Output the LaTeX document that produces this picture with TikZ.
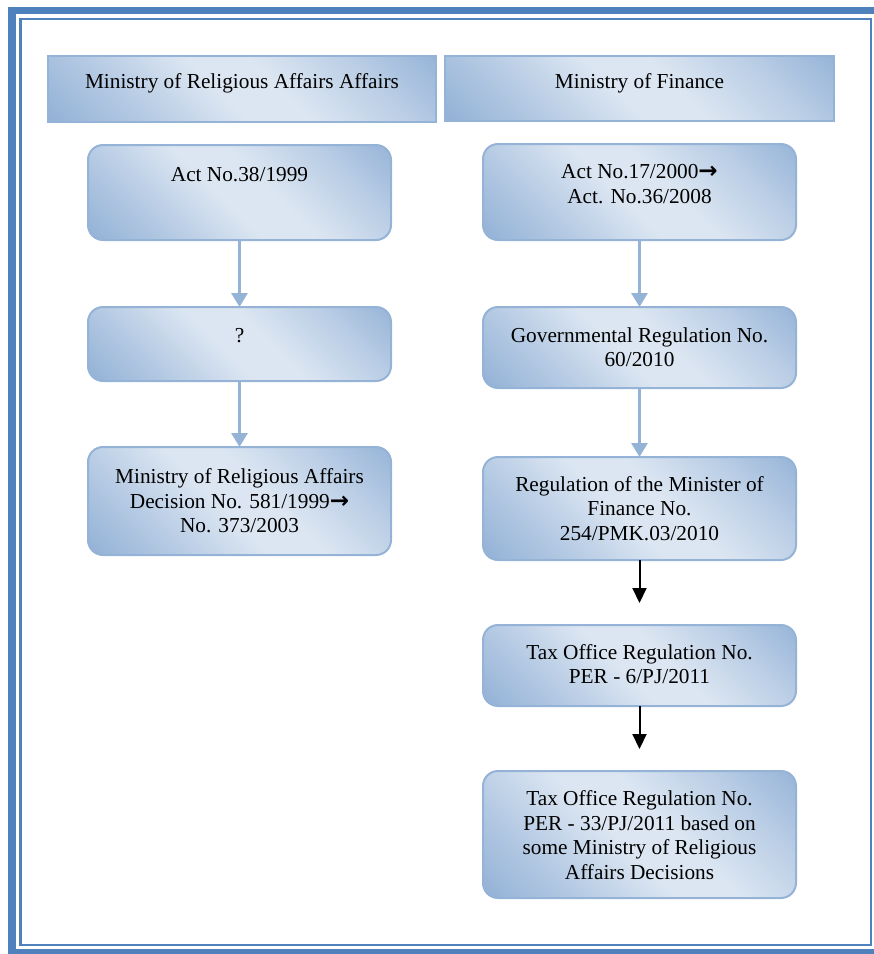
\documentclass[tikz,border=0pt]{standalone}
\usepackage{fontspec}
\setmainfont{Liberation Serif}
\newfontfamily\arrowfont{DejaVu Sans}
\usetikzlibrary{arrows.meta}

\definecolor{frameblue}{HTML}{4F81BD}
\definecolor{edgeblue}{HTML}{95B3D7}
\definecolor{shdark}{HTML}{95B3D7}
\definecolor{shmid}{HTML}{B9CDE5}
\definecolor{shlight}{HTML}{DCE6F2}

% diagonal band: darker at two opposite corners, light across the middle
\pgfdeclarehorizontalshading{boxband}{100bp}{%
  color(0bp)=(shdark); color(16bp)=(shdark); color(32bp)=(shmid);
  color(46bp)=(shlight); color(56bp)=(shlight); color(72bp)=(shmid);
  color(86bp)=(shdark); color(100bp)=(shdark)}

% #1 = upward shift of the text block's visual centre, #2 = number of lines
\newcommand\boxtext[3]{\raisebox{\dimexpr #1pt-12.25pt*(#2-1)-7.05pt\relax}[0pt][0pt]{%
  \begin{tabular}[b]{@{}c@{}}#3\end{tabular}}}
% heavy arrow glyph used inside the texts
\newcommand\nextarrow{{\arrowfont\bfseries\fontsize{23}{24.5}\selectfont →}}

\begin{document}
\begin{tikzpicture}[x=1pt,y=-1pt,
  boxbase/.style={draw=edgeblue, line width=2pt, shade, shading=boxband,
    shading angle=45, inner sep=0pt, outer sep=0pt,
    font=\fontsize{21.3}{24.5}\selectfont},
  headbox/.style={boxbase},
  stepbox/.style={boxbase, rounded corners=15pt},
  flowarrow/.style={draw=edgeblue, line width=3pt,
    -{Triangle[width=16pt,length=14pt]}},
  darkarrow/.style={draw=black, line width=2pt,
    -{Triangle[width=14pt,length=15pt]}}]

\useasboundingbox (0,0) rectangle (874,954);

% double page frame
\draw[frameblue, line width=7.5pt] (12,10.5) rectangle (879,953);
\draw[frameblue, line width=2.2pt] (20.5,19) rectangle (871,945);

% column headings
\node[headbox, minimum width=388pt, minimum height=66pt] (hL) at (242,89)
  {\boxtext{7.5}{1}{Ministry of Religious Affairs Affairs}};
\node[headbox, minimum width=389pt, minimum height=65pt] (hR) at (639.5,88.5)
  {\boxtext{7.5}{1}{Ministry of Finance}};

% left column
\node[stepbox, minimum width=303pt, minimum height=95pt] (a38) at (239.5,192.5)
  {\boxtext{18.5}{1}{Act No.38/1999}};
\node[stepbox, minimum width=303pt, minimum height=74pt] (q) at (239.5,344)
  {\boxtext{8.5}{1}{?}};
\node[stepbox, minimum width=303pt, minimum height=108pt] (dec) at (239.5,501)
  {\boxtext{0}{3}{Ministry of Religious Affairs\\Decision No. 581/1999\nextarrow\\No. 373/2003}};

% right column
\node[stepbox, minimum width=313pt, minimum height=96pt] (a17) at (639.5,192)
  {\boxtext{8}{2}{Act No.17/2000\nextarrow\\Act. No.36/2008}};
\node[stepbox, minimum width=313pt, minimum height=81pt] (gov) at (639.5,347.5)
  {\boxtext{0}{2}{Governmental Regulation No.\\60/2010}};
\node[stepbox, minimum width=313pt, minimum height=103pt] (reg) at (639.5,508.5)
  {\boxtext{0}{3}{Regulation of the Minister of\\Finance No.\\254/PMK.03/2010}};
\node[stepbox, minimum width=313pt, minimum height=81pt] (tax) at (639.5,665.5)
  {\boxtext{1}{2}{Tax Office Regulation No.\\PER - 6/PJ/2011}};
\node[stepbox, minimum width=313pt, minimum height=127pt] (per) at (639.5,834.5)
  {\boxtext{-1}{4}{Tax Office Regulation No.\\PER - 33/PJ/2011 based on\\some Ministry of Religious\\Affairs Decisions}};

% ends of the black arrows, short of the boxes below
\coordinate (e1) at ([yshift=22pt]tax.north);
\coordinate (e2) at ([yshift=22pt]per.north);

% connectors
\draw[flowarrow] (a38) -- (q);
\draw[flowarrow] (q) -- (dec);
\draw[flowarrow] (a17) -- (gov);
\draw[flowarrow] (gov) -- (reg);
\draw[darkarrow] (reg.south) -- (e1);
\draw[darkarrow] (tax.south) -- (e2);
\end{tikzpicture}
\end{document}
